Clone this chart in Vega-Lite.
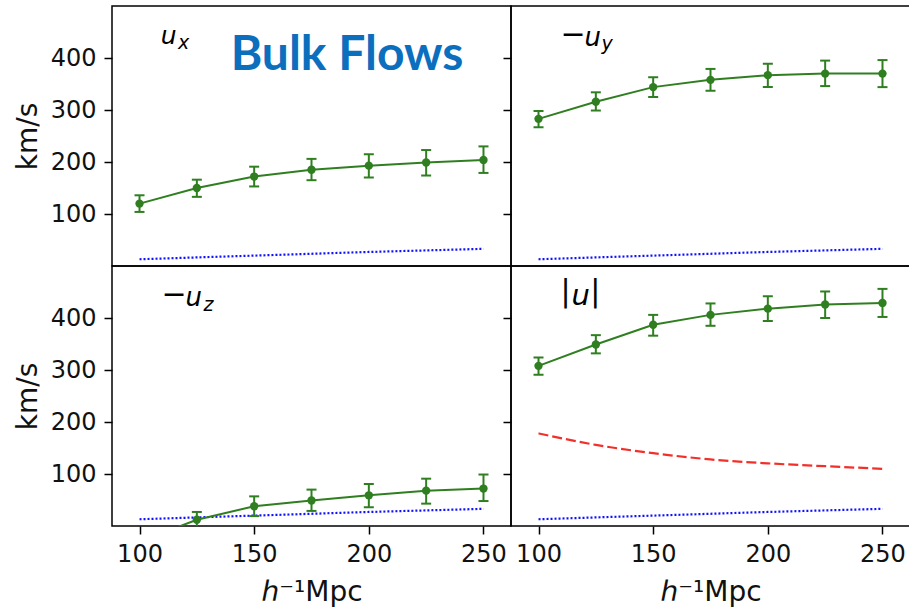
{
  "$schema": "https://vega.github.io/schema/vega-lite/v6.json",
  "background": "white",
  "padding": {"left": 13, "top": 5, "right": 0, "bottom": 0},
  "columns": 2,
  "spacing": 0,
  "bounds": "flush",
  "datasets": {
    "flow": [
      {"panel": "ux", "r": 100, "v": 120, "lo": 104, "hi": 136},
      {"panel": "ux", "r": 125, "v": 150, "lo": 133, "hi": 166},
      {"panel": "ux", "r": 150, "v": 172, "lo": 153, "hi": 191},
      {"panel": "ux", "r": 175, "v": 185, "lo": 165, "hi": 206},
      {"panel": "ux", "r": 200, "v": 193, "lo": 170, "hi": 215},
      {"panel": "ux", "r": 225, "v": 199, "lo": 174, "hi": 223},
      {"panel": "ux", "r": 250, "v": 204, "lo": 179, "hi": 230},
      {"panel": "uy", "r": 100, "v": 283, "lo": 267, "hi": 298},
      {"panel": "uy", "r": 125, "v": 316, "lo": 299, "hi": 334},
      {"panel": "uy", "r": 150, "v": 344, "lo": 325, "hi": 363},
      {"panel": "uy", "r": 175, "v": 358, "lo": 337, "hi": 379},
      {"panel": "uy", "r": 200, "v": 367, "lo": 344, "hi": 389},
      {"panel": "uy", "r": 225, "v": 370, "lo": 346, "hi": 395},
      {"panel": "uy", "r": 250, "v": 370, "lo": 344, "hi": 396},
      {"panel": "uz", "r": 100, "v": -30, "lo": -45, "hi": -15},
      {"panel": "uz", "r": 125, "v": 12, "lo": -3, "hi": 27},
      {"panel": "uz", "r": 150, "v": 38, "lo": 19, "hi": 57},
      {"panel": "uz", "r": 175, "v": 49, "lo": 29, "hi": 70},
      {"panel": "uz", "r": 200, "v": 59, "lo": 36, "hi": 81},
      {"panel": "uz", "r": 225, "v": 68, "lo": 43, "hi": 91},
      {"panel": "uz", "r": 250, "v": 72, "lo": 48, "hi": 99},
      {"panel": "mag", "r": 100, "v": 308, "lo": 291, "hi": 324},
      {"panel": "mag", "r": 125, "v": 349, "lo": 332, "hi": 367},
      {"panel": "mag", "r": 150, "v": 387, "lo": 366, "hi": 406},
      {"panel": "mag", "r": 175, "v": 406, "lo": 385, "hi": 428},
      {"panel": "mag", "r": 200, "v": 418, "lo": 394, "hi": 442},
      {"panel": "mag", "r": 225, "v": 426, "lo": 400, "hi": 451},
      {"panel": "mag", "r": 250, "v": 429, "lo": 402, "hi": 456}
    ],
    "noise": [
      {"r": 100, "v": 13}, {"r": 125, "v": 16.5}, {"r": 150, "v": 20}, {"r": 175, "v": 23.5},
      {"r": 200, "v": 27}, {"r": 225, "v": 30}, {"r": 250, "v": 33}
    ],
    "model": [
      {"r": 100, "v": 178}, {"r": 125, "v": 156}, {"r": 150, "v": 140}, {"r": 175, "v": 128},
      {"r": 200, "v": 120.5}, {"r": 225, "v": 115}, {"r": 250, "v": 110}
    ],
    "sym": [
      {"panel": "uy", "text": "−", "r": 109.6, "v": 426.3},
      {"panel": "uz", "text": "−", "r": 109.6, "v": 426.3},
      {"panel": "mag", "text": "|", "r": 109.6, "v": 433},
      {"panel": "mag", "text": "|", "r": 122.6, "v": 433}
    ],
    "var": [
      {"panel": "ux", "text": "u", "r": 109.3, "v": 427.5},
      {"panel": "uy", "text": "u", "r": 120.1, "v": 422.3},
      {"panel": "uz", "text": "u", "r": 120.1, "v": 422.3},
      {"panel": "mag", "text": "u", "r": 114.4, "v": 425.6}
    ],
    "sub": [
      {"panel": "ux", "text": "x", "r": 116.8, "v": 417.3},
      {"panel": "uy", "text": "y", "r": 127.5, "v": 414.6},
      {"panel": "uz", "text": "z", "r": 127.9, "v": 412.7}
    ],
    "heading": [
      {"text": "Bulk Flows", "r": 190.5, "v": 377.5}
    ]
  },
  "concat": [
    {
      "width": 399, "height": 260,
      "encoding": {"x": {"field": "r", "type": "quantitative", "scale": {"domain": [88, 262], "nice": false, "zero": false}, "axis": null}},
      "layer": [
        {"data": {"name": "noise"}, "mark": {"type": "line", "color": "#1010ff", "strokeWidth": 2.2, "strokeDash": [2, 2], "clip": true},
         "encoding": {"y": {"field": "v", "type": "quantitative", "scale": {"domain": [0, 500], "nice": false, "zero": false}, "axis": {"values": [100, 200, 300, 400], "title": "km/s", "titlePadding": 8, "labelFontSize": 24, "titleFontSize": 28}}}},
        {"data": {"name": "flow"}, "transform": [{"filter": "datum.panel === 'ux'"}],
         "layer": [
           {"mark": {"type": "rule", "color": "#2f7f20", "strokeWidth": 2, "clip": true},
            "encoding": {"y": {"field": "lo", "type": "quantitative", "scale": {"domain": [0, 500], "nice": false, "zero": false}, "axis": {"values": [100, 200, 300, 400], "title": "km/s", "titlePadding": 8, "labelFontSize": 24, "titleFontSize": 28}}, "y2": {"field": "hi"}}},
           {"mark": {"type": "tick", "orient": "horizontal", "color": "#2f7f20", "size": 10, "thickness": 2, "opacity": 1, "clip": true},
            "encoding": {"y": {"field": "lo", "type": "quantitative", "scale": {"domain": [0, 500], "nice": false, "zero": false}, "axis": {"values": [100, 200, 300, 400], "title": "km/s", "titlePadding": 8, "labelFontSize": 24, "titleFontSize": 28}}}},
           {"mark": {"type": "tick", "orient": "horizontal", "color": "#2f7f20", "size": 10, "thickness": 2, "opacity": 1, "clip": true},
            "encoding": {"y": {"field": "hi", "type": "quantitative", "scale": {"domain": [0, 500], "nice": false, "zero": false}, "axis": {"values": [100, 200, 300, 400], "title": "km/s", "titlePadding": 8, "labelFontSize": 24, "titleFontSize": 28}}}},
           {"mark": {"type": "line", "color": "#2f7f20", "strokeWidth": 2, "clip": true},
            "encoding": {"y": {"field": "v", "type": "quantitative", "scale": {"domain": [0, 500], "nice": false, "zero": false}, "axis": {"values": [100, 200, 300, 400], "title": "km/s", "titlePadding": 8, "labelFontSize": 24, "titleFontSize": 28}}}},
           {"mark": {"type": "point", "filled": true, "color": "#2f7f20", "size": 70, "opacity": 1, "clip": true},
            "encoding": {"y": {"field": "v", "type": "quantitative", "scale": {"domain": [0, 500], "nice": false, "zero": false}, "axis": {"values": [100, 200, 300, 400], "title": "km/s", "titlePadding": 8, "labelFontSize": 24, "titleFontSize": 28}}}}
         ]},
        {"data": {"name": "var"}, "transform": [{"filter": "datum.panel === 'ux'"}],
         "mark": {"type": "text", "font": "DejaVu Sans", "fontStyle": "italic", "fontSize": 25, "align": "left", "baseline": "alphabetic", "color": "#000"},
         "encoding": {"y": {"field": "v", "type": "quantitative", "scale": {"domain": [0, 500], "nice": false, "zero": false}, "axis": {"values": [100, 200, 300, 400], "title": "km/s", "titlePadding": 8, "labelFontSize": 24, "titleFontSize": 28}}, "text": {"field": "text"}}},
        {"data": {"name": "sub"}, "transform": [{"filter": "datum.panel === 'ux'"}],
         "mark": {"type": "text", "font": "DejaVu Sans", "fontStyle": "italic", "fontSize": 19, "align": "left", "baseline": "alphabetic", "color": "#000"},
         "encoding": {"y": {"field": "v", "type": "quantitative", "scale": {"domain": [0, 500], "nice": false, "zero": false}, "axis": {"values": [100, 200, 300, 400], "title": "km/s", "titlePadding": 8, "labelFontSize": 24, "titleFontSize": 28}}, "text": {"field": "text"}}},
        {"data": {"name": "heading"},
         "mark": {"type": "text", "font": "Lato", "fontWeight": "bold", "fontSize": 48, "align": "center", "baseline": "alphabetic", "color": "#0b6fbe"},
         "encoding": {"y": {"field": "v", "type": "quantitative", "scale": {"domain": [0, 500], "nice": false, "zero": false}, "axis": {"values": [100, 200, 300, 400], "title": "km/s", "titlePadding": 8, "labelFontSize": 24, "titleFontSize": 28}}, "text": {"field": "text"}}}
      ]
    },
    {
      "width": 399, "height": 260,
      "encoding": {"x": {"field": "r", "type": "quantitative", "scale": {"domain": [88, 262], "nice": false, "zero": false}, "axis": null}},
      "layer": [
        {"data": {"name": "noise"}, "mark": {"type": "line", "color": "#1010ff", "strokeWidth": 2.2, "strokeDash": [2, 2], "clip": true},
         "encoding": {"y": {"field": "v", "type": "quantitative", "scale": {"domain": [0, 500], "nice": false, "zero": false}, "axis": {"values": [100, 200, 300, 400], "labels": false, "title": null}}}},
        {"data": {"name": "flow"}, "transform": [{"filter": "datum.panel === 'uy'"}],
         "layer": [
           {"mark": {"type": "rule", "color": "#2f7f20", "strokeWidth": 2, "clip": true},
            "encoding": {"y": {"field": "lo", "type": "quantitative", "scale": {"domain": [0, 500], "nice": false, "zero": false}, "axis": {"values": [100, 200, 300, 400], "labels": false, "title": null}}, "y2": {"field": "hi"}}},
           {"mark": {"type": "tick", "orient": "horizontal", "color": "#2f7f20", "size": 10, "thickness": 2, "opacity": 1, "clip": true},
            "encoding": {"y": {"field": "lo", "type": "quantitative", "scale": {"domain": [0, 500], "nice": false, "zero": false}, "axis": {"values": [100, 200, 300, 400], "labels": false, "title": null}}}},
           {"mark": {"type": "tick", "orient": "horizontal", "color": "#2f7f20", "size": 10, "thickness": 2, "opacity": 1, "clip": true},
            "encoding": {"y": {"field": "hi", "type": "quantitative", "scale": {"domain": [0, 500], "nice": false, "zero": false}, "axis": {"values": [100, 200, 300, 400], "labels": false, "title": null}}}},
           {"mark": {"type": "line", "color": "#2f7f20", "strokeWidth": 2, "clip": true},
            "encoding": {"y": {"field": "v", "type": "quantitative", "scale": {"domain": [0, 500], "nice": false, "zero": false}, "axis": {"values": [100, 200, 300, 400], "labels": false, "title": null}}}},
           {"mark": {"type": "point", "filled": true, "color": "#2f7f20", "size": 70, "opacity": 1, "clip": true},
            "encoding": {"y": {"field": "v", "type": "quantitative", "scale": {"domain": [0, 500], "nice": false, "zero": false}, "axis": {"values": [100, 200, 300, 400], "labels": false, "title": null}}}}
         ]},
        {"data": {"name": "sym"}, "transform": [{"filter": "datum.panel === 'uy'"}],
         "mark": {"type": "text", "font": "DejaVu Sans", "fontSize": 30, "align": "left", "baseline": "alphabetic", "color": "#000"},
         "encoding": {"y": {"field": "v", "type": "quantitative", "scale": {"domain": [0, 500], "nice": false, "zero": false}, "axis": {"values": [100, 200, 300, 400], "labels": false, "title": null}}, "text": {"field": "text"}}},
        {"data": {"name": "var"}, "transform": [{"filter": "datum.panel === 'uy'"}],
         "mark": {"type": "text", "font": "DejaVu Sans", "fontStyle": "italic", "fontSize": 26, "align": "left", "baseline": "alphabetic", "color": "#000"},
         "encoding": {"y": {"field": "v", "type": "quantitative", "scale": {"domain": [0, 500], "nice": false, "zero": false}, "axis": {"values": [100, 200, 300, 400], "labels": false, "title": null}}, "text": {"field": "text"}}},
        {"data": {"name": "sub"}, "transform": [{"filter": "datum.panel === 'uy'"}],
         "mark": {"type": "text", "font": "DejaVu Sans", "fontStyle": "italic", "fontSize": 19, "align": "left", "baseline": "alphabetic", "color": "#000"},
         "encoding": {"y": {"field": "v", "type": "quantitative", "scale": {"domain": [0, 500], "nice": false, "zero": false}, "axis": {"values": [100, 200, 300, 400], "labels": false, "title": null}}, "text": {"field": "text"}}}
      ]
    },
    {
      "width": 399, "height": 260,
      "encoding": {"x": {"field": "r", "type": "quantitative", "scale": {"domain": [88, 262], "nice": false, "zero": false}, "axis": {"values": [100, 150, 200, 250], "title": "ℎ⁻¹Mpc", "titlePadding": 12, "labelFlush": false, "labelOverlap": false, "labelFontSize": 24, "titleFontSize": 28}}},
      "layer": [
        {"data": {"name": "noise"}, "mark": {"type": "line", "color": "#1010ff", "strokeWidth": 2.2, "strokeDash": [2, 2], "clip": true},
         "encoding": {"y": {"field": "v", "type": "quantitative", "scale": {"domain": [0, 500], "nice": false, "zero": false}, "axis": {"values": [100, 200, 300, 400], "title": "km/s", "titlePadding": 8, "labelFontSize": 24, "titleFontSize": 28}}}},
        {"data": {"name": "flow"}, "transform": [{"filter": "datum.panel === 'uz'"}],
         "layer": [
           {"mark": {"type": "rule", "color": "#2f7f20", "strokeWidth": 2, "clip": true},
            "encoding": {"y": {"field": "lo", "type": "quantitative", "scale": {"domain": [0, 500], "nice": false, "zero": false}, "axis": {"values": [100, 200, 300, 400], "title": "km/s", "titlePadding": 8, "labelFontSize": 24, "titleFontSize": 28}}, "y2": {"field": "hi"}}},
           {"mark": {"type": "tick", "orient": "horizontal", "color": "#2f7f20", "size": 10, "thickness": 2, "opacity": 1, "clip": true},
            "encoding": {"y": {"field": "lo", "type": "quantitative", "scale": {"domain": [0, 500], "nice": false, "zero": false}, "axis": {"values": [100, 200, 300, 400], "title": "km/s", "titlePadding": 8, "labelFontSize": 24, "titleFontSize": 28}}}},
           {"mark": {"type": "tick", "orient": "horizontal", "color": "#2f7f20", "size": 10, "thickness": 2, "opacity": 1, "clip": true},
            "encoding": {"y": {"field": "hi", "type": "quantitative", "scale": {"domain": [0, 500], "nice": false, "zero": false}, "axis": {"values": [100, 200, 300, 400], "title": "km/s", "titlePadding": 8, "labelFontSize": 24, "titleFontSize": 28}}}},
           {"mark": {"type": "line", "color": "#2f7f20", "strokeWidth": 2, "clip": true},
            "encoding": {"y": {"field": "v", "type": "quantitative", "scale": {"domain": [0, 500], "nice": false, "zero": false}, "axis": {"values": [100, 200, 300, 400], "title": "km/s", "titlePadding": 8, "labelFontSize": 24, "titleFontSize": 28}}}},
           {"mark": {"type": "point", "filled": true, "color": "#2f7f20", "size": 70, "opacity": 1, "clip": true},
            "encoding": {"y": {"field": "v", "type": "quantitative", "scale": {"domain": [0, 500], "nice": false, "zero": false}, "axis": {"values": [100, 200, 300, 400], "title": "km/s", "titlePadding": 8, "labelFontSize": 24, "titleFontSize": 28}}}}
         ]},
        {"data": {"name": "sym"}, "transform": [{"filter": "datum.panel === 'uz'"}],
         "mark": {"type": "text", "font": "DejaVu Sans", "fontSize": 30, "align": "left", "baseline": "alphabetic", "color": "#000"},
         "encoding": {"y": {"field": "v", "type": "quantitative", "scale": {"domain": [0, 500], "nice": false, "zero": false}, "axis": {"values": [100, 200, 300, 400], "title": "km/s", "titlePadding": 8, "labelFontSize": 24, "titleFontSize": 28}}, "text": {"field": "text"}}},
        {"data": {"name": "var"}, "transform": [{"filter": "datum.panel === 'uz'"}],
         "mark": {"type": "text", "font": "DejaVu Sans", "fontStyle": "italic", "fontSize": 26, "align": "left", "baseline": "alphabetic", "color": "#000"},
         "encoding": {"y": {"field": "v", "type": "quantitative", "scale": {"domain": [0, 500], "nice": false, "zero": false}, "axis": {"values": [100, 200, 300, 400], "title": "km/s", "titlePadding": 8, "labelFontSize": 24, "titleFontSize": 28}}, "text": {"field": "text"}}},
        {"data": {"name": "sub"}, "transform": [{"filter": "datum.panel === 'uz'"}],
         "mark": {"type": "text", "font": "DejaVu Sans", "fontStyle": "italic", "fontSize": 19, "align": "left", "baseline": "alphabetic", "color": "#000"},
         "encoding": {"y": {"field": "v", "type": "quantitative", "scale": {"domain": [0, 500], "nice": false, "zero": false}, "axis": {"values": [100, 200, 300, 400], "title": "km/s", "titlePadding": 8, "labelFontSize": 24, "titleFontSize": 28}}, "text": {"field": "text"}}}
      ]
    },
    {
      "width": 399, "height": 260,
      "encoding": {"x": {"field": "r", "type": "quantitative", "scale": {"domain": [88, 262], "nice": false, "zero": false}, "axis": {"values": [100, 150, 200, 250], "title": "ℎ⁻¹Mpc", "titlePadding": 12, "labelFlush": false, "labelOverlap": false, "labelFontSize": 24, "titleFontSize": 28}}},
      "layer": [
        {"data": {"name": "noise"}, "mark": {"type": "line", "color": "#1010ff", "strokeWidth": 2.2, "strokeDash": [2, 2], "clip": true},
         "encoding": {"y": {"field": "v", "type": "quantitative", "scale": {"domain": [0, 500], "nice": false, "zero": false}, "axis": {"values": [100, 200, 300, 400], "labels": false, "title": null}}}},
        {"data": {"name": "model"}, "mark": {"type": "line", "color": "#f2302a", "strokeWidth": 2.2, "strokeDash": [10, 4], "interpolate": "monotone", "clip": true},
         "encoding": {"y": {"field": "v", "type": "quantitative", "scale": {"domain": [0, 500], "nice": false, "zero": false}, "axis": {"values": [100, 200, 300, 400], "labels": false, "title": null}}}},
        {"data": {"name": "flow"}, "transform": [{"filter": "datum.panel === 'mag'"}],
         "layer": [
           {"mark": {"type": "rule", "color": "#2f7f20", "strokeWidth": 2, "clip": true},
            "encoding": {"y": {"field": "lo", "type": "quantitative", "scale": {"domain": [0, 500], "nice": false, "zero": false}, "axis": {"values": [100, 200, 300, 400], "labels": false, "title": null}}, "y2": {"field": "hi"}}},
           {"mark": {"type": "tick", "orient": "horizontal", "color": "#2f7f20", "size": 10, "thickness": 2, "opacity": 1, "clip": true},
            "encoding": {"y": {"field": "lo", "type": "quantitative", "scale": {"domain": [0, 500], "nice": false, "zero": false}, "axis": {"values": [100, 200, 300, 400], "labels": false, "title": null}}}},
           {"mark": {"type": "tick", "orient": "horizontal", "color": "#2f7f20", "size": 10, "thickness": 2, "opacity": 1, "clip": true},
            "encoding": {"y": {"field": "hi", "type": "quantitative", "scale": {"domain": [0, 500], "nice": false, "zero": false}, "axis": {"values": [100, 200, 300, 400], "labels": false, "title": null}}}},
           {"mark": {"type": "line", "color": "#2f7f20", "strokeWidth": 2, "clip": true},
            "encoding": {"y": {"field": "v", "type": "quantitative", "scale": {"domain": [0, 500], "nice": false, "zero": false}, "axis": {"values": [100, 200, 300, 400], "labels": false, "title": null}}}},
           {"mark": {"type": "point", "filled": true, "color": "#2f7f20", "size": 70, "opacity": 1, "clip": true},
            "encoding": {"y": {"field": "v", "type": "quantitative", "scale": {"domain": [0, 500], "nice": false, "zero": false}, "axis": {"values": [100, 200, 300, 400], "labels": false, "title": null}}}}
         ]},
        {"data": {"name": "sym"}, "transform": [{"filter": "datum.panel === 'mag'"}],
         "mark": {"type": "text", "font": "DejaVu Sans", "fontSize": 30, "align": "left", "baseline": "alphabetic", "color": "#000"},
         "encoding": {"y": {"field": "v", "type": "quantitative", "scale": {"domain": [0, 500], "nice": false, "zero": false}, "axis": {"values": [100, 200, 300, 400], "labels": false, "title": null}}, "text": {"field": "text"}}},
        {"data": {"name": "var"}, "transform": [{"filter": "datum.panel === 'mag'"}],
         "mark": {"type": "text", "font": "DejaVu Sans", "fontStyle": "italic", "fontSize": 29, "align": "left", "baseline": "alphabetic", "color": "#000"},
         "encoding": {"y": {"field": "v", "type": "quantitative", "scale": {"domain": [0, 500], "nice": false, "zero": false}, "axis": {"values": [100, 200, 300, 400], "labels": false, "title": null}}, "text": {"field": "text"}}}
      ]
    }
  ],
  "config": {
    "view": {"stroke": "#000", "strokeWidth": 1.5},
    "axis": {
      "grid": false, "domain": false, "tickColor": "#000", "tickWidth": 1.5, "tickSize": 8,
      "labelFont": "DejaVu Sans", "labelFontSize": 24, "labelColor": "#111", "labelPadding": 8,
      "titleFont": "DejaVu Sans", "titleFontSize": 28, "titleFontWeight": "normal", "titleColor": "#111"
    },
    "axisX": {"labelFontSize": 24, "titleFontSize": 28},
    "axisY": {"labelFontSize": 24, "titleFontSize": 28}
  }
}
